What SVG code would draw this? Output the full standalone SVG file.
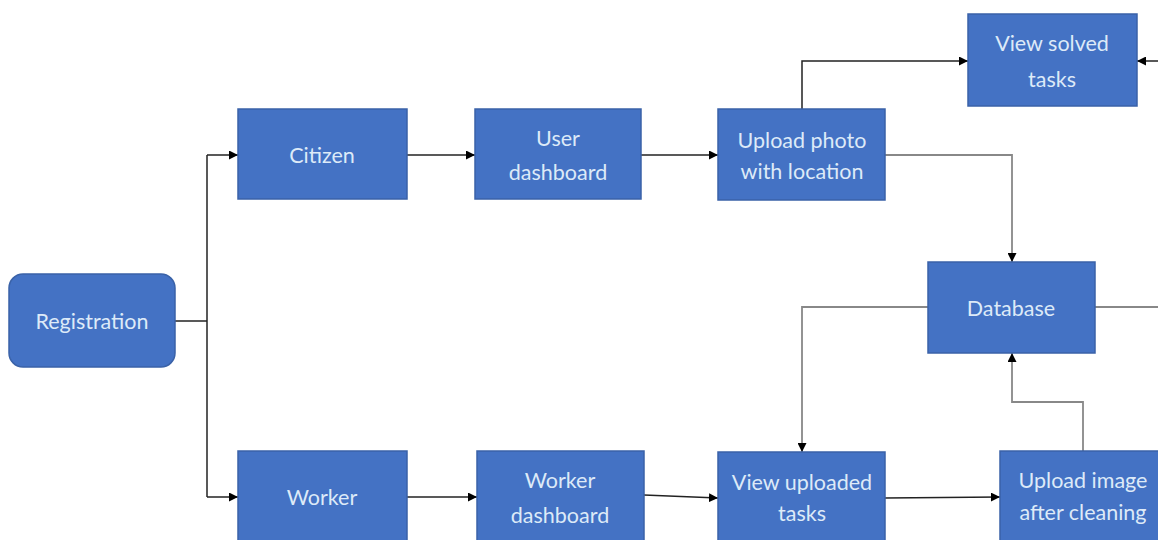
<svg xmlns="http://www.w3.org/2000/svg" width="1158" height="540" viewBox="0 0 1158 540">
<style>
.box{fill:#4472C4;stroke:#3A62A8;stroke-width:1.5}
.t{font-family:Lato,"Open Sans","Liberation Sans",sans-serif;font-size:21.5px;fill:#DDEAF8;text-anchor:middle;dominant-baseline:central}
.c{fill:none;stroke:#222;stroke-width:1.5}
.g{fill:none;stroke:#888;stroke-width:1.8}
</style>
<defs>
<marker id="ah" viewBox="0 0 10 10" refX="10" refY="5" markerWidth="9" markerHeight="9" markerUnits="userSpaceOnUse" orient="auto">
<path d="M0,0 L10,5 L0,10 z" fill="#000"/>
</marker>
</defs>
<rect width="1158" height="540" fill="#fff"/>
<g id="connectors">
<path class="c" d="M175,321 H207"/>
<path class="c" d="M207,155 V497"/>
<path class="c" d="M207,155 H238" marker-end="url(#ah)"/>
<path class="c" d="M207,497 H238" marker-end="url(#ah)"/>
<path class="c" d="M407,155 H475" marker-end="url(#ah)"/>
<path class="c" d="M641,155 H718" marker-end="url(#ah)"/>
<path class="c" d="M802,109 V61 H968" marker-end="url(#ah)"/>
<path class="c" d="M1158,61 H1137" marker-end="url(#ah)"/>
<path class="g" d="M885,155 H1012 V262" marker-end="url(#ah)"/>
<path class="g" d="M928,307 H802 V452" marker-end="url(#ah)"/>
<path class="g" d="M1095,307 H1158"/>
<path class="g" d="M1083,451 V402 H1012 V353" marker-end="url(#ah)"/>
<path class="c" d="M407,497 H477" marker-end="url(#ah)"/>
<path class="c" d="M644,495 L718,498" marker-end="url(#ah)"/>
<path class="c" d="M885,498 L1000,497" marker-end="url(#ah)"/>
</g>
<g id="registration"><rect class="box" x="9" y="274" width="166" height="93" rx="14"/><text class="t" x="92" y="321">Registration</text></g>
<g id="citizen"><rect class="box" x="238" y="109" width="169" height="90"/><text class="t" x="322" y="155">Citizen</text></g>
<g id="user-dashboard"><rect class="box" x="475" y="109" width="166" height="90"/><text class="t" x="558" y="138">User</text><text class="t" x="558" y="172">dashboard</text></g>
<g id="upload-photo"><rect class="box" x="718" y="109" width="167" height="91"/><text class="t" x="802" y="140">Upload photo</text><text class="t" x="802" y="171">with location</text></g>
<g id="view-solved"><rect class="box" x="968" y="14" width="169" height="92"/><text class="t" x="1052" y="43">View solved</text><text class="t" x="1052" y="79">tasks</text></g>
<g id="database"><rect class="box" x="928" y="262" width="167" height="91"/><text class="t" x="1011" y="308">Database</text></g>
<g id="worker"><rect class="box" x="238" y="451" width="169" height="95"/><text class="t" x="322" y="497">Worker</text></g>
<g id="worker-dashboard"><rect class="box" x="477" y="451" width="167" height="95"/><text class="t" x="560" y="480">Worker</text><text class="t" x="560" y="515">dashboard</text></g>
<g id="view-uploaded"><rect class="box" x="718" y="452" width="167" height="94"/><text class="t" x="802" y="482">View uploaded</text><text class="t" x="802" y="513">tasks</text></g>
<g id="upload-image"><rect class="box" x="1000" y="451" width="170" height="95"/><text class="t" x="1083" y="480">Upload image</text><text class="t" x="1083" y="512">after cleaning</text></g>
</svg>
